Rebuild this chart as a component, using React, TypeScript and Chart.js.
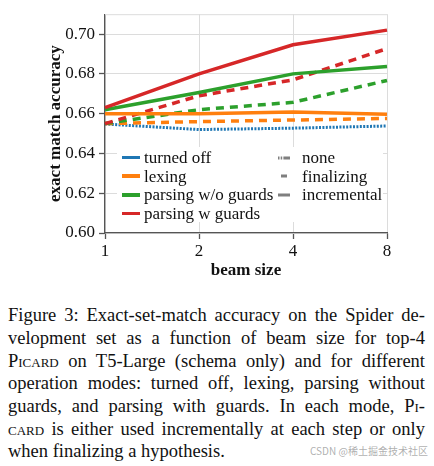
import React, { useEffect, useRef } from "react";
import { Chart, registerables } from "chart.js";

Chart.register(...registerables);

const beamSizes = ["1", "2", "4", "8"];
const yTicks = [0.6, 0.62, 0.64, 0.66, 0.68, 0.7];

const turnedOff = [0.6548, 0.652, 0.6527, 0.6538];
const lexingIncremental = [0.66, 0.66, 0.6608, 0.6597];
const lexingFinalizing = [0.655, 0.656, 0.6568, 0.6576];
const noGuardsIncremental = [0.662, 0.6706, 0.68, 0.6837];
const noGuardsFinalizing = [0.655, 0.662, 0.6657, 0.6767];
const guardsIncremental = [0.663, 0.68, 0.6946, 0.702];
const guardsFinalizing = [0.655, 0.669, 0.677, 0.6927];

const BLUE = "#1f77b4";
const ORANGE = "#ff7f0e";
const GREEN = "#2ca02c";
const RED = "#d62728";
const GRAY = "#7f7f7f";
const AXIS = "#555555";
const GRID = "#dcdcdc";
const SERIF = "'Liberation Serif', 'Times New Roman', serif";

const modeLegend = [
  { label: "turned off", color: BLUE },
  { label: "lexing", color: ORANGE },
  { label: "parsing w/o guards", color: GREEN },
  { label: "parsing w guards", color: RED },
];

// top edge of the plot frame (the y axis stops at 0.71 without a tick)
const framePlugin = {
  id: "frame",
  beforeDatasetsDraw(chart: any) {
    const { ctx, chartArea } = chart;
    ctx.save();
    ctx.strokeStyle = GRID;
    ctx.lineWidth = 1;
    ctx.beginPath();
    ctx.moveTo(chartArea.left, chartArea.top + 0.5);
    ctx.lineTo(chartArea.right, chartArea.top + 0.5);
    ctx.stroke();
    ctx.restore();
  },
};

function line(data: number[], color: string, dash: number[], width = 3.5) {
  return {
    data,
    borderColor: color,
    backgroundColor: color,
    borderWidth: width,
    borderDash: dash,
    pointRadius: 0,
    tension: 0,
    fill: false,
  };
}

function StyleSwatch({ kind }: { kind: string }) {
  return (
    <svg width="12" height="6" style={{ display: "block" }}>
      {kind === "none" && (
        <line x1="0" y1="3" x2="12" y2="3" stroke={GRAY} strokeWidth="3" strokeDasharray="1.5 1.2 1.5 1.2 8" />
      )}
      {kind === "finalizing" && <line x1="3" y1="3" x2="9" y2="3" stroke={GRAY} strokeWidth="3" />}
      {kind === "incremental" && <line x1="0" y1="3" x2="12" y2="3" stroke={GRAY} strokeWidth="3" />}
    </svg>
  );
}

export default function App() {
  const chartRef = useRef<HTMLCanvasElement>(null);
  const chartInstance = useRef<Chart | null>(null);

  useEffect(() => {
    if (!chartRef.current) return;
    if (chartInstance.current) chartInstance.current.destroy();

    const ctx = chartRef.current.getContext("2d");
    if (!ctx) return;

    chartInstance.current = new Chart(ctx, {
      type: "line",
      data: {
        labels: beamSizes,
        datasets: [
          line(guardsIncremental, RED, []),
          line(noGuardsIncremental, GREEN, []),
          line(lexingIncremental, ORANGE, []),
          line(guardsFinalizing, RED, [8, 6]),
          line(noGuardsFinalizing, GREEN, [8, 6]),
          line(lexingFinalizing, ORANGE, [8, 6]),
          line(turnedOff, BLUE, [2, 1.4], 3),
        ],
      },
      options: {
        animation: false,
        responsive: true,
        maintainAspectRatio: false,
        layout: { padding: { top: 8, right: 47, left: 0, bottom: 0 } },
        plugins: {
          legend: { display: false },
          tooltip: { enabled: false },
        },
        scales: {
          x: {
            type: "category",
            offset: false,
            afterFit: (scale: any) => {
              scale.height = 52;
            },
            grid: {
              color: GRID,
              lineWidth: 1,
              tickLength: 6,
              tickColor: AXIS,
              tickWidth: 1.3,
            },
            border: { color: AXIS, width: 1.3 },
            ticks: {
              color: "#111",
              padding: 2,
              maxRotation: 0,
              font: { family: SERIF, size: 17 },
            },
            title: {
              display: true,
              text: "beam size",
              color: "#111",
              padding: { top: 4, bottom: 4 },
              font: { family: SERIF, size: 17, weight: "bold" },
            },
          },
          y: {
            min: 0.6,
            max: 0.71,
            afterFit: (scale: any) => {
              scale.width = 105;
            },
            afterBuildTicks: (scale: any) => {
              scale.ticks = yTicks.map((v) => ({ value: v }));
            },
            grid: {
              color: GRID,
              lineWidth: 1,
              tickLength: 6,
              tickColor: AXIS,
              tickWidth: 1.3,
            },
            border: { color: AXIS, width: 1.3 },
            ticks: {
              color: "#111",
              padding: 4,
              font: { family: SERIF, size: 17 },
              callback: (v: any) => Number(v).toFixed(2),
            },
            title: {
              display: true,
              text: "exact match accuracy",
              color: "#111",
              padding: { top: 45, bottom: 0 },
              font: { family: SERIF, size: 17, weight: "bold" },
            },
          },
        },
      },
      plugins: [framePlugin],
    });

    return () => {
      if (chartInstance.current) {
        chartInstance.current.destroy();
        chartInstance.current = null;
      }
    };
  }, []);

  const sc = { fontVariant: "small-caps" as const };
  const captionLines: React.ReactNode[] = [
    "Figure 3: Exact-set-match accuracy on the Spider de-",
    "velopment set as a function of beam size for top-4",
    <>
      <span style={sc}>Picard</span> on T5-Large (schema only) and for different
    </>,
    "operation modes: turned off, lexing, parsing without",
    <>
      guards, and parsing with guards. In each mode, <span style={sc}>Pi-</span>
    </>,
    <>
      <span style={sc}>card</span> is either used incrementally at each step or only
    </>,
    "when finalizing a hypothesis.",
  ];

  return (
    <div style={{ position: "absolute", left: 0, top: 0, width: 434, height: 466, background: "#fff", fontFamily: SERIF }}>
      <div style={{ position: "absolute", left: 0, top: 0, width: 434, height: 285 }}>
        <canvas ref={chartRef} />
      </div>

      {/* legend drawn inside the plot area */}
      <div
        style={{
          position: "absolute",
          left: 117,
          top: 147,
          width: 266,
          height: 75,
          background: "#fff",
          color: "#111",
          fontSize: 17,
        }}
      >
        {modeLegend.map((m, i) => (
          <div key={m.label} style={{ position: "absolute", left: 5, top: 1 + i * 18.7, height: 19, display: "flex", alignItems: "center", whiteSpace: "nowrap" }}>
            <div style={{ width: 18, height: 3.5, background: m.color, marginRight: 4 }} />
            <span style={{ lineHeight: "19px" }}>{m.label}</span>
          </div>
        ))}
        {["none", "finalizing", "incremental"].map((k, i) => (
          <div key={k} style={{ position: "absolute", left: 161, top: 1 + i * 18.7, height: 19, display: "flex", alignItems: "center", whiteSpace: "nowrap" }}>
            <div style={{ marginRight: 12 }}>
              <StyleSwatch kind={k} />
            </div>
            <span style={{ lineHeight: "19px" }}>{k}</span>
          </div>
        ))}
      </div>

      <div style={{ position: "absolute", left: 8, top: 304.4, width: 417, fontSize: 18.5, lineHeight: "22.67px", color: "#111" }}>
        {captionLines.map((l, i) => (
          <div
            key={i}
            style={{
              whiteSpace: "nowrap",
              textAlign: "justify",
              textAlignLast: i === captionLines.length - 1 ? "left" : "justify",
            }}
          >
            {l}
          </div>
        ))}
      </div>

      <div style={{ position: "absolute", left: 310, top: 443, fontSize: 10, color: "rgba(140,140,140,0.7)", fontFamily: "'Noto Sans CJK SC', 'DejaVu Sans', sans-serif", whiteSpace: "nowrap" }}>
        CSDN @稀土掘金技术社区
      </div>
    </div>
  );
}
